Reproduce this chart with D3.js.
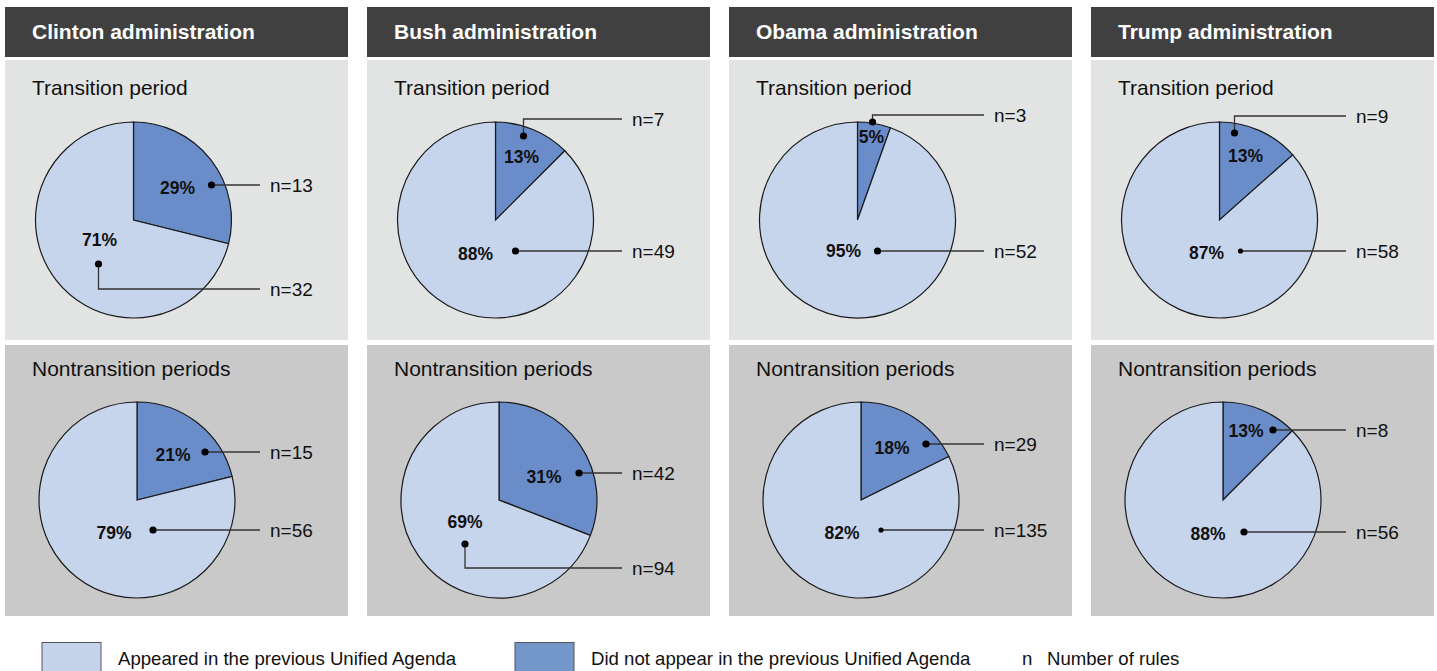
<!DOCTYPE html>
<html>
<head>
<meta charset="utf-8">
<script src="https://cdn.jsdelivr.net/npm/d3@7"></script>
<style>
  body { margin: 0; background: #fff; }
  svg { display: block; font-family: "Liberation Sans", Arial, sans-serif; }
</style>
</head>
<body>
<div class="chart"></div>
<script>
// chart data
var administrations = ["Clinton administration", "Bush administration", "Obama administration", "Trump administration"];
var periods = ["Transition period", "Nontransition periods"];
var categories = ["Did not appear in the previous Unified Agenda", "Appeared in the previous Unified Agenda"];
// rule counts, [period][administration]
var notAppearedN = [[13, 7, 3, 9], [15, 42, 29, 8]];
var appearedN = [[32, 49, 52, 58], [56, 94, 135, 56]];
var notAppearedPct = [[29, 13, 5, 13], [21, 31, 18, 13]];
var appearedPct = [[71, 88, 95, 87], [79, 69, 82, 88]];

// label placement relative to each pie centre (layout only)
// t = percent text, d = leader dot, ly = y of the horizontal leader (defaults to dot y)
var labelLayout = [
  [
    { dark: { t: [44, -32], d: [78, -35] }, light: { t: [-34, 20], d: [-35, 44], ly: 69 } },
    { dark: { t: [26, -63], d: [28, -84], ly: -101 }, light: { t: [-20, 34], d: [20, 31] } },
    { dark: { t: [14, -83], d: [15, -98], ly: -105 }, light: { t: [-14, 31], d: [20, 31] } },
    { dark: { t: [26, -64], d: [15, -87], ly: -104 }, light: { t: [-13, 33], d: [21, 31], small: true } }
  ],
  [
    { dark: { t: [36, -45], d: [68, -48] }, light: { t: [-23, 33], d: [16, 30] } },
    { dark: { t: [45, -23], d: [80, -27] }, light: { t: [-34, 22], d: [-34, 44], ly: 68 } },
    { dark: { t: [31, -52], d: [65, -56] }, light: { t: [-19, 33], d: [20, 30], small: true } },
    { dark: { t: [23, -69], d: [50, -70] }, light: { t: [-15, 34], d: [21, 32] } }
  ]
];

var colors = { dark: "#6a8cc8", light: "#c6d4ec" };
var panelFill = ["#e2e4e3", "#c9c9c9"];

var svgWidth = 1437, svgHeight = 671;

var svg = d3.select(".chart")
  .append("svg")
  .attr("width", svgWidth)
  .attr("height", svgHeight);

var x = d3.scaleBand()
  .domain(administrations)
  .range([5, 1434])
  .paddingInner(19 / 362);

var panelTop = [60, 345];
var panelHeight = [280, 271];
var pieCenter = [{ dx: 128.5, cy: 220 }, { dx: 132, cy: 500 }];
var radius = 98;

var pie = d3.pie().sort(null).value(function (d) { return d.n; });
var arc = d3.arc().innerRadius(0).outerRadius(radius);

administrations.forEach(function (admin, ai) {
  var x0 = x(admin);
  var w = x.bandwidth();

  // header bar
  svg.append("rect")
    .attr("x", x0).attr("y", 7)
    .attr("width", w).attr("height", 50)
    .attr("fill", "#404040");

  svg.append("text")
    .attr("x", x0 + 27).attr("y", 38.5)
    .attr("fill", "#fff")
    .attr("font-size", 21)
    .attr("font-weight", "bold")
    .text(admin);

  periods.forEach(function (period, pi) {
    svg.append("rect")
      .attr("x", x0).attr("y", panelTop[pi])
      .attr("width", w).attr("height", panelHeight[pi])
      .attr("fill", panelFill[pi]);

    svg.append("text")
      .attr("x", x0 + 27).attr("y", panelTop[pi] + (pi === 0 ? 34.5 : 30.5))
      .attr("fill", "#111")
      .attr("font-size", 21)
      .text(period);

    var cx = x0 + pieCenter[pi].dx;
    var cy = pieCenter[pi].cy;

    var slices = [
      { key: "dark", n: notAppearedN[pi][ai], pct: notAppearedPct[pi][ai] },
      { key: "light", n: appearedN[pi][ai], pct: appearedPct[pi][ai] }
    ];

    var g = svg.append("g")
      .attr("transform", "translate(" + cx + "," + cy + ")");

    g.selectAll("path")
      .data(pie(slices))
      .enter().append("path")
      .attr("d", arc)
      .attr("fill", function (d) { return colors[d.data.key]; })
      .attr("stroke", "#1a1a1a")
      .attr("stroke-width", 1.2);

    var lineEnd = x0 + 255 - cx;

    slices.forEach(function (s) {
      var lay = labelLayout[pi][ai][s.key];
      var ly = lay.ly !== undefined ? lay.ly : lay.d[1];

      g.append("path")
        .attr("d", "M" + lay.d[0] + "," + lay.d[1] + "V" + ly + "H" + lineEnd)
        .attr("fill", "none")
        .attr("stroke", "#333")
        .attr("stroke-width", 1.3);

      g.append("circle")
        .attr("cx", lay.d[0]).attr("cy", lay.d[1])
        .attr("r", lay.small ? 2.6 : 3.6)
        .attr("fill", "#000");

      g.append("text")
        .attr("x", lay.t[0]).attr("y", lay.t[1])
        .attr("dy", "0.36em")
        .attr("text-anchor", "middle")
        .attr("font-size", 17.5)
        .attr("font-weight", "bold")
        .attr("fill", "#111")
        .text(s.pct + "%");

      g.append("text")
        .attr("x", lineEnd + 10).attr("y", ly)
        .attr("dy", "0.36em")
        .attr("font-size", 19)
        .attr("fill", "#111")
        .text("n=" + s.n);
    });
  });
});

// legend
var legend = [
  { x: 42, key: "light", label: categories[1] },
  { x: 515, key: "dark", label: categories[0] }
];

legend.forEach(function (l) {
  svg.append("rect")
    .attr("x", l.x).attr("y", 642.5)
    .attr("width", 59).attr("height", 40)
    .attr("fill", l.key === "light" ? "#c6d3eb" : "#7497cb")
    .attr("stroke", "#555")
    .attr("stroke-width", 1);

  svg.append("text")
    .attr("x", l.x + 76).attr("y", 665)
    .attr("font-size", 18.6)
    .attr("fill", "#111")
    .text(l.label);
});

svg.append("text")
  .attr("x", 1022).attr("y", 665)
  .attr("font-size", 18.6)
  .attr("fill", "#111")
  .text("n");

svg.append("text")
  .attr("x", 1047).attr("y", 665)
  .attr("font-size", 18.6)
  .attr("fill", "#111")
  .text("Number of rules");
</script>
</body>
</html>
